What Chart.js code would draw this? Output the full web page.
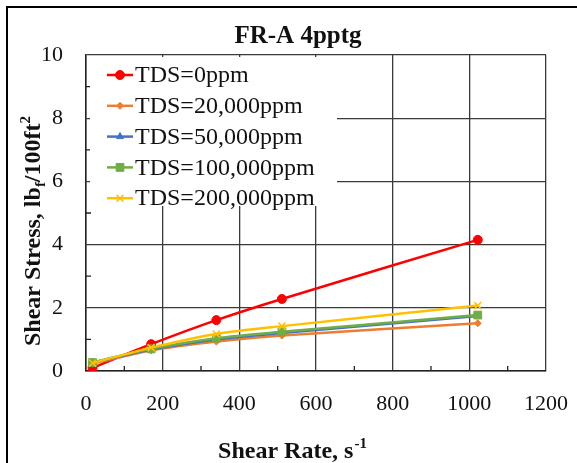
<!DOCTYPE html>
<html>
<head>
<meta charset="utf-8">
<script src="https://cdn.jsdelivr.net/npm/chart.js@4/dist/chart.umd.min.js"></script>
<style>
  html, body { margin: 0; padding: 0; background: #fff; }
  #wrap { width: 577px; height: 463px; }
</style>
</head>
<body>
<div id="wrap"><canvas id="grafica" width="577" height="463"></canvas></div>
<script>
// Tasas de corte del viscosímetro (s^-1)
const tasaCorte = [17, 170, 340, 511, 1022];

// Esfuerzo de corte (lbf/100ft2) por salinidad
const tds0 = [0.10, 0.85, 1.61, 2.28, 4.15];
const tds20k = [0.24, 0.65, 0.93, 1.12, 1.51];
const tds50k = [0.26, 0.68, 1.00, 1.20, 1.74];
const tds100k = [0.27, 0.70, 1.04, 1.24, 1.77];
const tds200k = [0.25, 0.74, 1.17, 1.42, 2.07];

const etiquetas = ['TDS=0ppm', 'TDS=20,000ppm', 'TDS=50,000ppm', 'TDS=100,000ppm', 'TDS=200,000ppm'];
const colores = ['#ff0000', '#ed7d31', '#4472c4', '#70ad47', '#ffc000'];
const marcadores = ['circle', 'rectRot', 'triangle', 'rect', 'crossRot'];
const radios = [4.5, 3.5, 4, 5.5, 5];

const fuente = "'Liberation Serif', 'Times New Roman', serif";

const series = [tds0, tds20k, tds50k, tds100k, tds200k];
const datasets = series.map((vals, i) => ({
    label: etiquetas[i],
    data: tasaCorte.map((x, j) => ({ x: x, y: vals[j] })),
    showLine: true,
    borderColor: colores[i],
    backgroundColor: colores[i],
    borderWidth: 2.5,
    tension: 0.3,
    pointStyle: marcadores[i],
    pointRadius: radios[i],
    pointBorderWidth: marcadores[i] === 'crossRot' ? 1.5 : 1,
    order: 5 - i
}));

// Marco exterior, título, marcas menores, leyenda interior y títulos de ejes
const extras = {
    id: 'extras',
    beforeDraw(chart) {
        const ctx = chart.ctx;
        ctx.save();
        ctx.strokeStyle = '#000';
        ctx.lineWidth = 2;
        ctx.beginPath();
        ctx.moveTo(7, 463);
        ctx.lineTo(7, 7);
        ctx.lineTo(577, 7);
        ctx.stroke();

        ctx.fillStyle = '#111';
        ctx.font = 'bold 25px ' + fuente;
        ctx.textAlign = 'center';
        ctx.textBaseline = 'middle';
        ctx.fillText('FR-A 4pptg', 298, 37);
        ctx.restore();
    },
    afterDatasetsDraw(chart) {
        const ctx = chart.ctx;
        const a = chart.chartArea;
        const sx = chart.scales.x, sy = chart.scales.y;
        ctx.save();

        // marcas menores hacia dentro
        ctx.strokeStyle = '#222';
        ctx.lineWidth = 1.3;
        ctx.beginPath();
        for (let v = 100; v < 1200; v += 200) {
            const px = sx.getPixelForValue(v);
            ctx.moveTo(px, a.bottom);
            ctx.lineTo(px, a.bottom - 5);
        }
        for (let v = 1; v < 10; v += 2) {
            const py = sy.getPixelForValue(v);
            ctx.moveTo(a.left, py);
            ctx.lineTo(a.left + 5, py);
        }
        ctx.stroke();

        // leyenda
        ctx.fillStyle = '#fff';
        ctx.fillRect(90, 57, 247, 149);
        ctx.font = '24px ' + fuente;
        ctx.textBaseline = 'middle';
        ctx.textAlign = 'left';
        etiquetas.forEach((t, i) => {
            const y = 75 + i * 30.8;
            ctx.strokeStyle = colores[i];
            ctx.fillStyle = colores[i];
            ctx.lineWidth = 2.5;
            ctx.beginPath();
            ctx.moveTo(107, y);
            ctx.lineTo(133, y);
            ctx.stroke();
            ctx.lineWidth = marcadores[i] === 'crossRot' ? 1.5 : 1;
            Chart.helpers.drawPoint(ctx, { pointStyle: marcadores[i], radius: radios[i], rotation: 0, borderWidth: 1 }, 120, y);
            ctx.fillStyle = '#111';
            ctx.fillText(t, 135, y + 1);
        });

        // título del eje x con superíndice
        ctx.fillStyle = '#111';
        ctx.textBaseline = 'alphabetic';
        const base = 'Shear Rate, s';
        ctx.font = 'bold 24px ' + fuente;
        const w1 = ctx.measureText(base).width;
        ctx.font = 'bold 15px ' + fuente;
        const w2 = ctx.measureText('-1').width;
        let x0 = 292 - (w1 + w2) / 2;
        ctx.font = 'bold 24px ' + fuente;
        ctx.fillText(base, x0, 458);
        ctx.font = 'bold 15px ' + fuente;
        ctx.fillText('-1', x0 + w1 + 1, 448);

        // título del eje y con subíndice y superíndice
        ctx.translate(40, 231);
        ctx.rotate(-Math.PI / 2);
        const partes = [
            { t: 'Shear Stress, lb', f: 24, dy: 0 },
            { t: 'f', f: 15, dy: 5 },
            { t: '/100ft', f: 24, dy: 0 },
            { t: '2', f: 15, dy: -10 }
        ];
        let total = 0;
        partes.forEach(p => { ctx.font = 'bold ' + p.f + 'px ' + fuente; p.w = ctx.measureText(p.t).width; total += p.w; });
        let cx = -total / 2;
        partes.forEach(p => {
            ctx.font = 'bold ' + p.f + 'px ' + fuente;
            ctx.fillText(p.t, cx, p.dy);
            cx += p.w;
        });
        ctx.restore();
    }
};

new Chart(document.getElementById('grafica'), {
    type: 'scatter',
    data: { datasets: datasets },
    options: {
        responsive: false,
        animation: false,
        devicePixelRatio: 1,
        layout: { padding: { left: 0, right: 31, top: 55, bottom: 0 } },
        plugins: {
            legend: { display: false },
            tooltip: { enabled: false },
            title: { display: false }
        },
        scales: {
            x: {
                type: 'linear',
                min: 0,
                max: 1200,
                afterFit(s) { s.height = 92; },
                ticks: { stepSize: 200, color: '#111', padding: 0, font: { family: fuente, size: 22 }, callback: v => String(v) },
                // marcas exteriores invisibles: solo separan las etiquetas del eje
                grid: { color: '#3a3a3a', lineWidth: 1.3, drawTicks: true, tickLength: 20, tickColor: 'rgba(0,0,0,0)' },
                border: { color: '#222', width: 1.5 }
            },
            y: {
                type: 'linear',
                min: 0,
                max: 10,
                afterFit(s) { s.width = 86; },
                ticks: { stepSize: 2, color: '#111', padding: 0, font: { family: fuente, size: 22 }, callback: v => String(v) },
                grid: { color: '#3a3a3a', lineWidth: 1.3, drawTicks: true, tickLength: 23, tickColor: 'rgba(0,0,0,0)' },
                border: { color: '#222', width: 1.5 }
            }
        }
    },
    plugins: [extras]
});
</script>
</body>
</html>
